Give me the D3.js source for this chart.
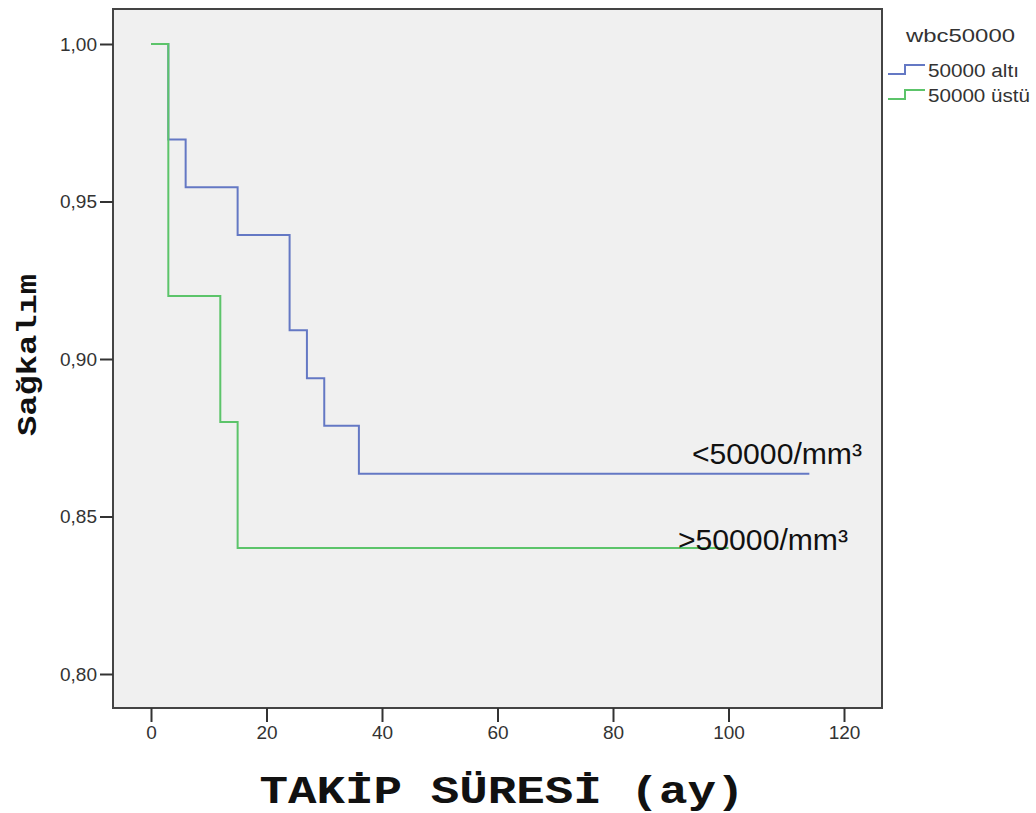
<html>
<head>
<style>
  body { margin: 0; background: #fff; }
  svg { display: block; }
  .tick text { font-family: "Liberation Sans", Arial, sans-serif; font-size: 19px; fill: #333; }
  .axis .domain { display: none; }
  .axis .tick line { stroke: #333; stroke-width: 2; }
</style>
</head>
<body>
<script src="https://cdn.jsdelivr.net/npm/d3@7"></script>
<script>
// survival steps
let groups = ["50000 altı", "50000 üstü"]
let blueTimes = [0, 3, 6, 15, 24, 27, 30, 36, 114]
let blueSurv = [1, 0.9697, 0.9545, 0.9394, 0.9091, 0.8939, 0.8788, 0.8636, 0.8636]
let greenTimes = [0, 3, 12, 15, 100]
let greenSurv = [1, 0.92, 0.88, 0.84, 0.84]
let xTicks = [0, 20, 40, 60, 80, 100, 120]
let yTicks = [1.00, 0.95, 0.90, 0.85, 0.80]
let colors = ["#6478c4", "#5cc46a"]

let width = 1036, height = 813
let frame = {left: 113, right: 882, top: 9, bottom: 708}

let svg = d3.select("body").append("svg")
    .attr("width", width)
    .attr("height", height)

let x = d3.scaleLinear().domain([0, 120]).range([151, 844])
let y = d3.scaleLinear().domain([0.80, 1.00]).range([674, 44])

// plot background
svg.append("rect")
    .attr("x", frame.left).attr("y", frame.top)
    .attr("width", frame.right - frame.left)
    .attr("height", frame.bottom - frame.top)
    .attr("fill", "#f0f0f0")
    .attr("stroke", "#444")
    .attr("stroke-width", 2)

svg.append("g")
    .attr("class", "axis")
    .attr("transform", `translate(0, ${frame.bottom})`)
    .call(d3.axisBottom(x).tickValues(xTicks).tickSize(14).tickPadding(4))

svg.append("g")
    .attr("class", "axis")
    .attr("transform", `translate(${frame.left}, 0)`)
    .call(d3.axisLeft(y).tickValues(yTicks).tickSize(13).tickPadding(3)
        .tickFormat(d => d3.format(".2f")(d).replace(".", ",")))

let line = d3.line()
    .x(d => x(d[0]))
    .y(d => y(d[1]))
    .curve(d3.curveStepAfter)

let series = [
    d3.zip(blueTimes, blueSurv),
    d3.zip(greenTimes, greenSurv)
]

svg.append("g").selectAll("path")
    .data(series)
    .join("path")
    .attr("d", line)
    .attr("fill", "none")
    .attr("stroke", (d, i) => colors[i])
    .attr("stroke-width", 2)

// annotations on the curves
svg.append("text")
    .attr("x", 692).attr("y", 464)
    .attr("textLength", 170)
    .attr("lengthAdjust", "spacingAndGlyphs")
    .style("font-family", "Liberation Sans, Arial, sans-serif")
    .style("font-size", "29px")
    .attr("fill", "#111")
    .text("<50000/mm³")

svg.append("text")
    .attr("x", 678).attr("y", 550)
    .attr("textLength", 170)
    .attr("lengthAdjust", "spacingAndGlyphs")
    .style("font-family", "Liberation Sans, Arial, sans-serif")
    .style("font-size", "29px")
    .attr("fill", "#111")
    .text(">50000/mm³")

// legend
svg.append("text")
    .attr("x", 906).attr("y", 42)
    .attr("textLength", 109)
    .attr("lengthAdjust", "spacingAndGlyphs")
    .style("font-family", "Liberation Sans, Arial, sans-serif")
    .style("font-size", "18px")
    .attr("fill", "#333")
    .text("wbc50000")

let legend = svg.append("g").selectAll("g")
    .data(groups)
    .join("g")
    .attr("transform", (d, i) => `translate(888, ${74 + i * 25})`)

legend.append("path")
    .attr("d", "M0,0 H17 V-9 H37")
    .attr("fill", "none")
    .attr("stroke", (d, i) => colors[i])
    .attr("stroke-width", 2)

legend.append("text")
    .attr("x", 40).attr("y", 3)
    .attr("textLength", (d, i) => i == 0 ? 91 : 102)
    .attr("lengthAdjust", "spacingAndGlyphs")
    .style("font-family", "Liberation Sans, Arial, sans-serif")
    .style("font-size", "18px")
    .attr("fill", "#333")
    .text(d => d)

// axis titles
svg.append("text")
    .attr("x", 502).attr("y", 803)
    .attr("text-anchor", "middle")
    .attr("textLength", 485)
    .attr("lengthAdjust", "spacingAndGlyphs")
    .style("font-family", "Liberation Mono, DejaVu Sans Mono, monospace")
    .style("font-weight", "bold")
    .style("font-size", "38px")
    .attr("fill", "#111")
    .text("TAKİP SÜRESİ (ay)")

svg.append("text")
    .attr("transform", "translate(36, 355) rotate(-90)")
    .attr("text-anchor", "middle")
    .attr("textLength", 162)
    .attr("lengthAdjust", "spacingAndGlyphs")
    .style("font-family", "Liberation Mono, DejaVu Sans Mono, monospace")
    .style("font-weight", "bold")
    .style("font-size", "28px")
    .attr("fill", "#111")
    .text("Sağkalım")
</script>
</body>
</html>
